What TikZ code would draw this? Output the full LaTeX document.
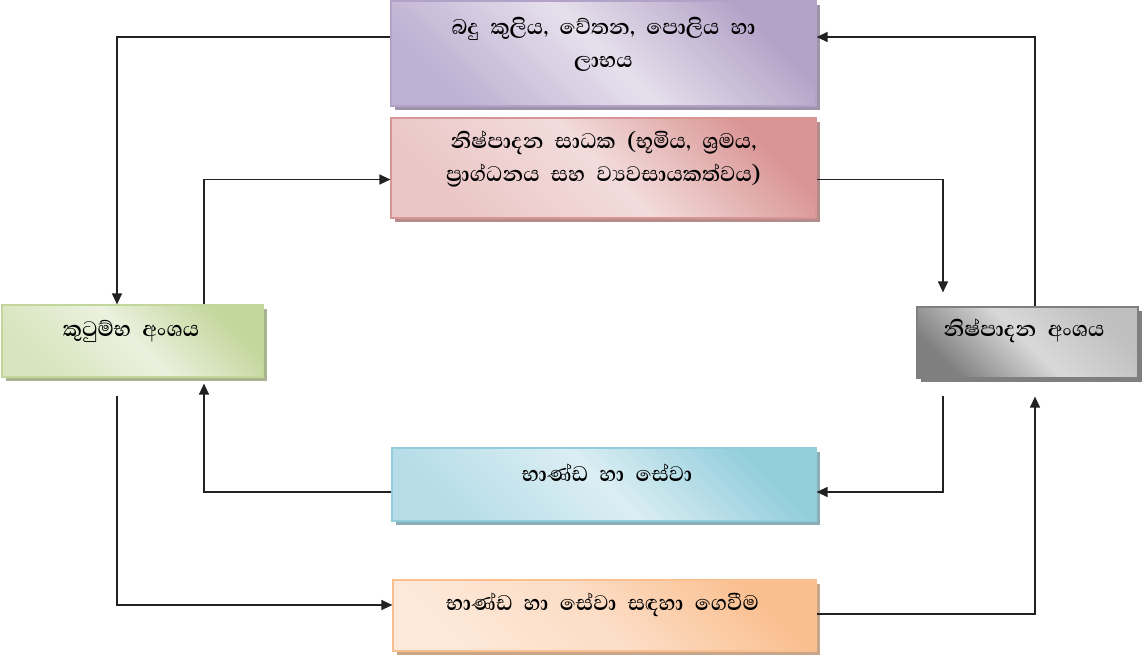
\documentclass[tikz,border=0pt]{standalone}
\usepackage{fontspec}
\newfontfamily\sinhala[Script=Sinhala,WordSpace=2.2]{Abhaya Libre}
\usetikzlibrary{arrows.meta,shadows}
\definecolor{purA}{HTML}{B3A2C7}\definecolor{purB}{HTML}{E6E0EC}\definecolor{purC}{HTML}{BFB1D3}
\definecolor{redA}{HTML}{D99594}\definecolor{redB}{HTML}{F2DCDB}\definecolor{redC}{HTML}{EBC6C6}
\definecolor{grnA}{HTML}{C3D69B}\definecolor{grnB}{HTML}{EBF1DE}\definecolor{grnC}{HTML}{D7E4BD}
\definecolor{gryA}{HTML}{BFBFBF}\definecolor{gryB}{HTML}{D9D9D9}\definecolor{gryC}{HTML}{7F7F7F}
\definecolor{bluA}{HTML}{92CDDC}\definecolor{bluB}{HTML}{DBEEF3}\definecolor{bluC}{HTML}{B6DDE8}
\definecolor{orgA}{HTML}{FABF8F}\definecolor{orgB}{HTML}{FCDCC4}\definecolor{orgC}{HTML}{FDE9D9}
\definecolor{linecol}{HTML}{222222}
\tikzset{
  box/.style n args={4}{draw=#1, line width=1.2pt, inner sep=0pt,
    left color=#4, right color=#2, middle color=#3, shading angle=135,
    general shadow={shadow xshift=4pt, shadow yshift=-4pt, fill=#1!60!gray}},
  lbl/.style={font=\sinhala\bfseries\fontsize{27}{33}\selectfont, align=center, text=black, inner sep=0pt},
  arr/.style={draw=linecol, line width=1.3pt, -{Triangle[length=11pt,width=10pt]}},
}
\begin{document}
\begin{tikzpicture}[x=1pt,y=-1pt]
\useasboundingbox (0,0) rectangle (1145,665);
\node[box={purA}{purA}{purB}{purC}, minimum width=425pt, minimum height=105pt] (pur) at (603.5,53.5) {};
\node[box={redA}{redA}{redB}{redC}, minimum width=425pt, minimum height=100pt] (red) at (603.5,168) {};
\node[box={grnA}{grnA}{grnB}{grnC}, minimum width=261pt, minimum height=72pt] (grn) at (132.5,341) {};
\node[box={gryC}{gryA}{gryB}{gryC}, minimum width=221pt, minimum height=71pt] (gry) at (1027.5,342.5) {};
\node[box={bluA}{bluA}{bluB}{bluC}, minimum width=424pt, minimum height=73pt] (blu) at (604,484.5) {};
\node[box={orgA}{orgA}{orgB}{orgC}, minimum width=423pt, minimum height=71pt] (org) at (604.5,615.5) {};
\node[lbl] (purT) at (603.5,44) {බදු කුලිය, වේතන, පොලිය හා\\ලාභය};
\node[lbl] (redT) at (603.5,159.5) {නිෂ්පාදන සාධක (භූමිය, ශ්‍රමය,\\ප්‍රාග්ධනය සහ ව්‍යවසායකත්වය)};
\node[lbl] (grnT) at (131,331) {කුටුම්භ අංශය};
\node[lbl] (gryT) at (1024,331) {නිෂ්පාදන අංශය};
\node[lbl] (bluT) at (607,473) {භාණ්ඩ හා සේවා};
\node[lbl] (orgT) at (602.5,605) {භාණ්ඩ හා සේවා සඳහා ගෙවීම};
\draw[arr] ([yshift=16.5pt]pur.west) -| ([xshift=-15.5pt]grn.north);
\draw[arr] ([xshift=7.5pt]gry.north) |- ([yshift=16.5pt]pur.east);
\draw[arr] ([xshift=71.5pt]grn.north) |- ([yshift=-11.5pt]red.west);
\draw[arr, shorten >=14pt] ([yshift=-11.5pt]red.east) -| ([xshift=-84.5pt]gry.north);
\draw[arr, shorten <=17pt] ([xshift=-84.5pt]gry.south) |- ([yshift=-7.5pt]blu.east);
\draw[arr, shorten >=6pt] ([yshift=-7.5pt]blu.west) -| ([xshift=71.5pt]grn.south);
\draw[arr, shorten <=18pt] ([xshift=-15.5pt]grn.south) |- ([yshift=10.5pt]org.west);
\draw[arr, shorten >=18pt] ([yshift=1.5pt]org.east) -| ([xshift=7.5pt]gry.south);
\end{tikzpicture}
\end{document}
